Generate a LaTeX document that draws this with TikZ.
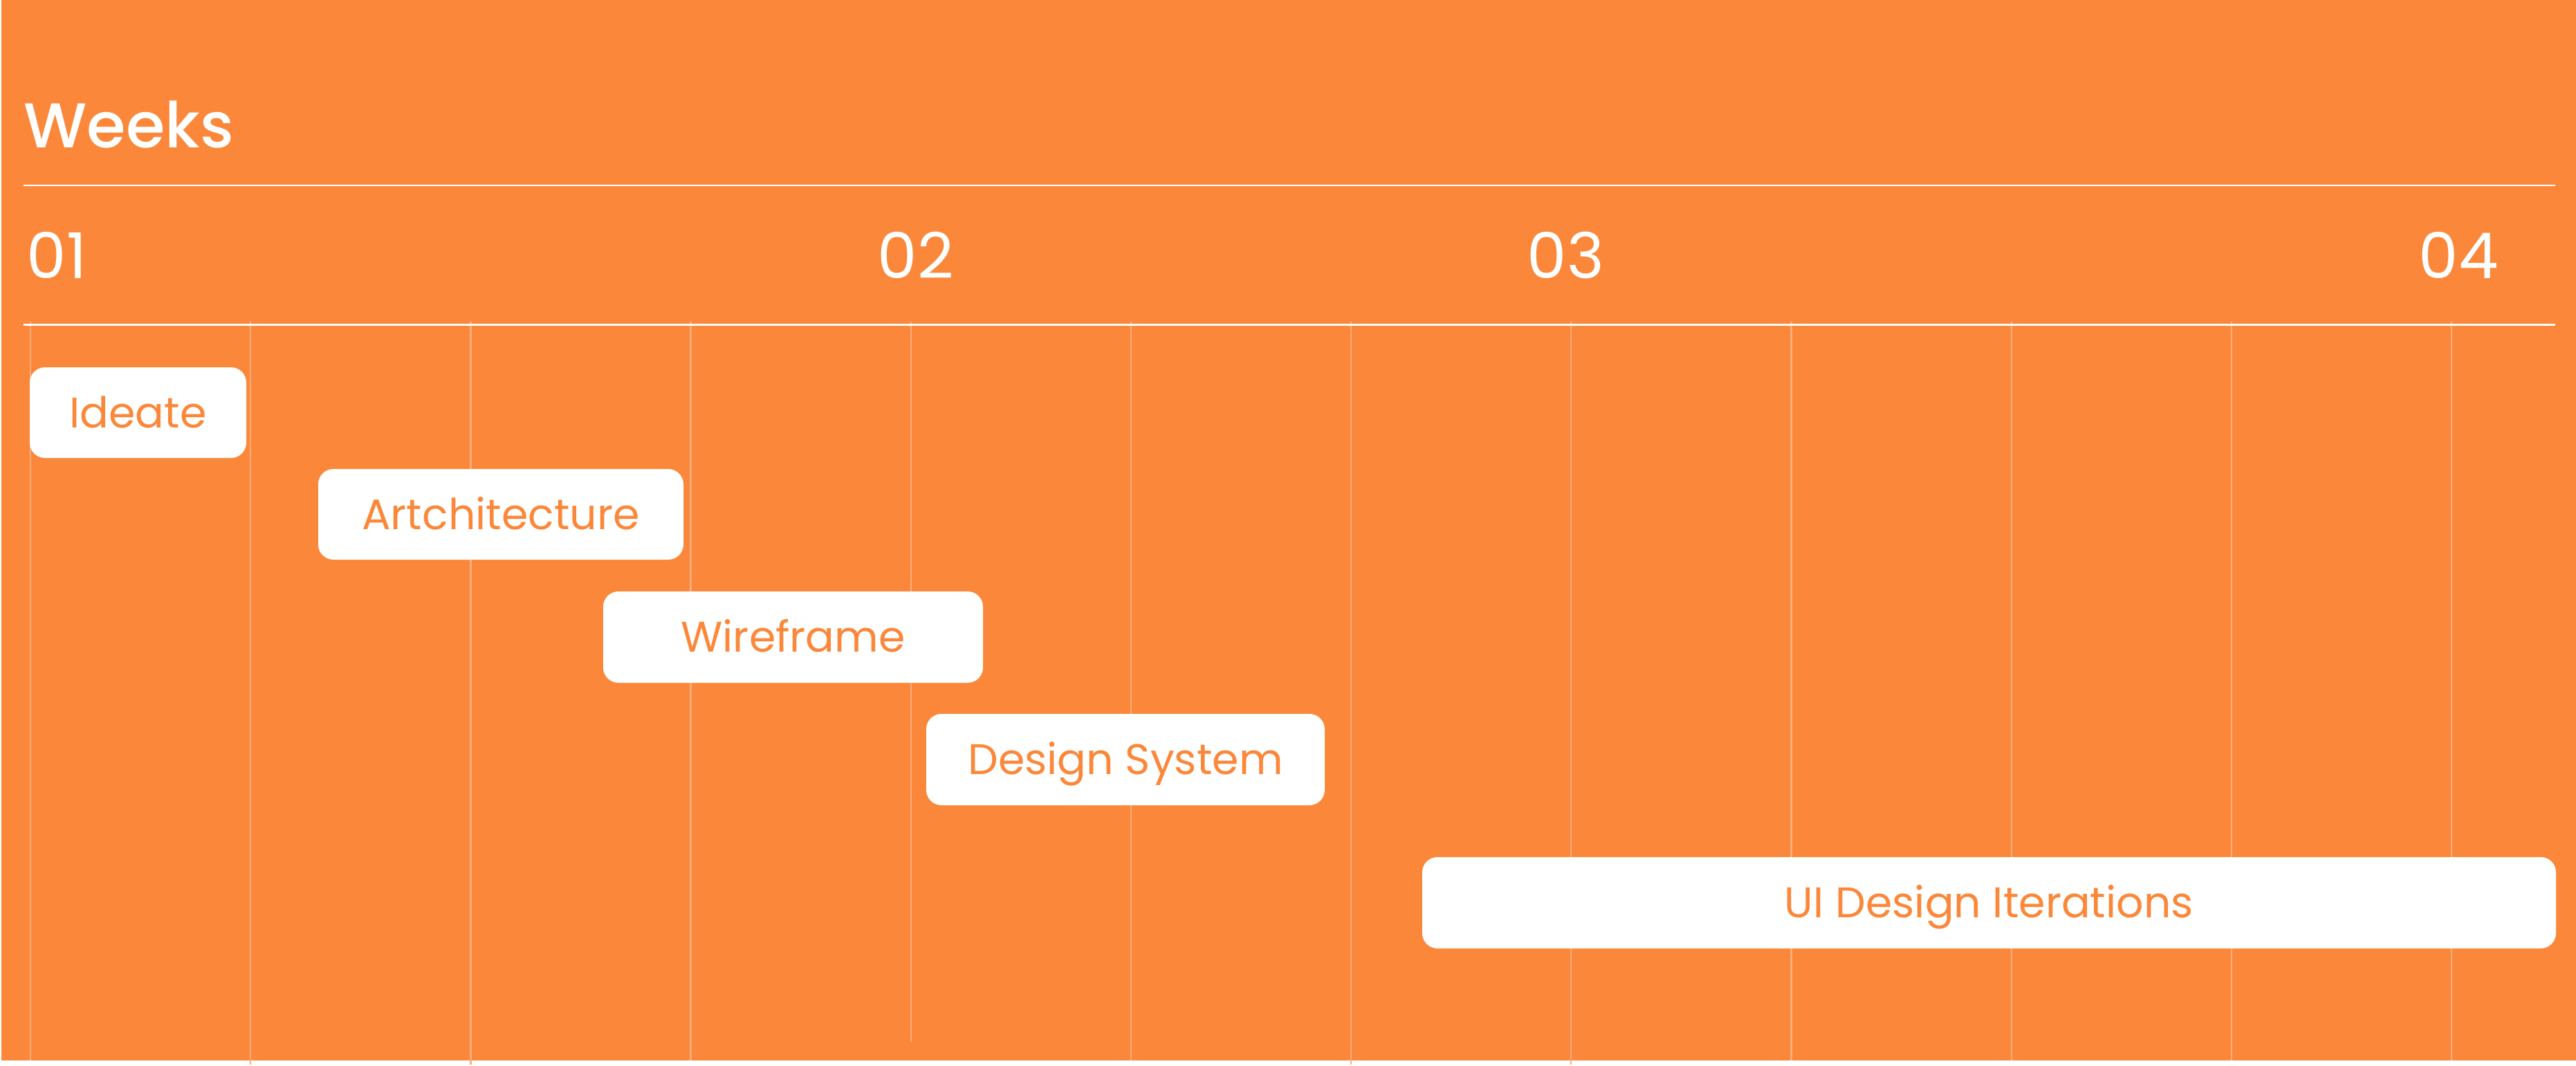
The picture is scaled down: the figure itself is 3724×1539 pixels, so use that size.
\documentclass[tikz,border=0pt]{standalone}
\usepackage{fontspec}
\setmainfont{Poppins}[BoldFont={Poppins Medium}]
\usepackage{xcolor}
\usepackage{tikz}
\usetikzlibrary{positioning,calc}

\definecolor{bgorange}{RGB}{251,136,58}
\definecolor{gridline}{RGB}{253,172,122}

\begin{document}
\begin{tikzpicture}[
    x=0.1mm, y=-0.1mm,
    task/.style={rectangle, fill=white, rounded corners=2.2mm, inner sep=0pt,
                 minimum height=13.1mm, text=bgorange, font=\fontsize{17.6}{20}\selectfont,
                 text height=4.3mm, text depth=0pt, align=center},
    weeknum/.style={anchor=base west, inner sep=0pt, text=white,
                    font=\fontsize{26}{30}\selectfont},
    rule/.style={white, line width=0.85pt},
    tick/.style={gridline, line width=0.65pt},
  ]

  % Page
  \fill[white] (0,0) rectangle (3724,1539);
  \fill[bgorange] (2,0) rectangle (3724,1533);

  % Week grid
  \foreach \k/\yend in {0/1533, 1/1539, 2/1539, 3/1533, 4/1506, 5/1533,
                        6/1539, 7/1539, 8/1533, 9/1533, 10/1533, 11/1533}
    \draw[tick] ({44+318.18*\k},465) -- ({44+318.18*\k},\yend);

  % Rules
  \coordinate (r1w) at (34,268);
  \coordinate (r1e) at (3694,268);
  \coordinate (r2w) at (34,469);
  \coordinate (r2e) at (3694,469);
  \draw[rule] (r1w) -- (r1e);
  \draw[rule] (r2w) -- (r2e);

  % Header
  \node[weeknum, font=\fontsize{26}{30}\selectfont\bfseries] (weeks) at (34,213) {Weeks};
  \node[weeknum] (w1) at (38,402) {01};
  \node[weeknum] (w2) at (1268,402) {02};
  \node[weeknum] (w3) at (2207,402) {03};
  \node[weeknum] (w4) at (3496,402) {04};

  % Tasks
  \node[task, minimum width=31.3mm] (ideate) at (199.5,596.5) {Ideate};
  \node[task, minimum width=52.8mm] (arch) at (724,743.5) {Artchitecture};
  \node[task, minimum width=54.9mm, minimum height=13.2mm] (wire) at (1146.5,921) {Wireframe};
  \node[task, minimum width=57.6mm, minimum height=13.2mm] (dsys) at (1627,1098) {Design System};
  \node[task, minimum width=163.9mm, minimum height=13.2mm] (uidi) at (2875.5,1305) {UI Design Iterations};

  \end{tikzpicture}
\end{document}
